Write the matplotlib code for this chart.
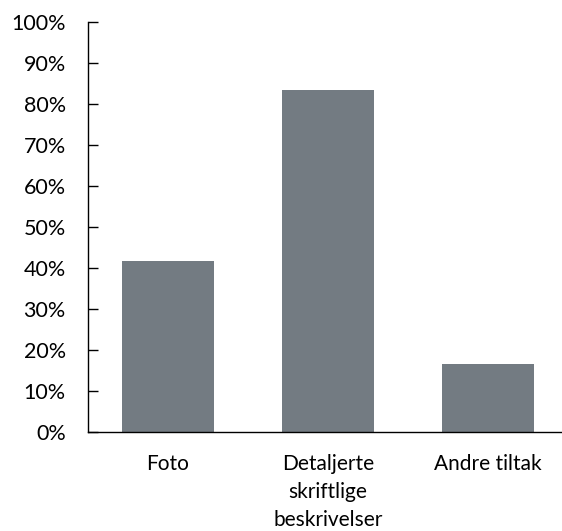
import matplotlib
matplotlib.use("Agg")
import matplotlib.pyplot as plt
from matplotlib.ticker import PercentFormatter

categories = ["Foto", "Detaljerte\nskriftlige\nbeskrivelser", "Andre tiltak"]
values = [41.7, 83.3, 16.7]
yticks = list(range(0, 101, 10))

plt.rcParams['font.family'] = ['Lato', 'DejaVu Sans']

fig = plt.figure(figsize=(5.62, 5.31), dpi=100)
ax = fig.add_axes([88 / 562, (531 - 432) / 531, 480 / 562, 410 / 531])

x = range(len(categories))
ax.bar(x, values, width=0.575, color="#737b82")

ax.set_xlim(-0.5, len(categories) - 0.5)
ax.set_ylim(0, 100)
ax.set_yticks(yticks)
ax.yaxis.set_major_formatter(PercentFormatter(decimals=0))
ax.set_xticks(list(x))
ax.set_xticklabels(categories, fontsize=15, linespacing=1.5)

ax.tick_params(axis="y", direction="in", length=7, width=1, labelsize=15.5, pad=16)
ax.tick_params(axis="x", length=0, pad=16)

ax.spines["top"].set_visible(False)
ax.spines["right"].set_visible(False)
ax.spines["left"].set_linewidth(1)
ax.spines["bottom"].set_linewidth(1)

fig.savefig("out.png", dpi=100)
